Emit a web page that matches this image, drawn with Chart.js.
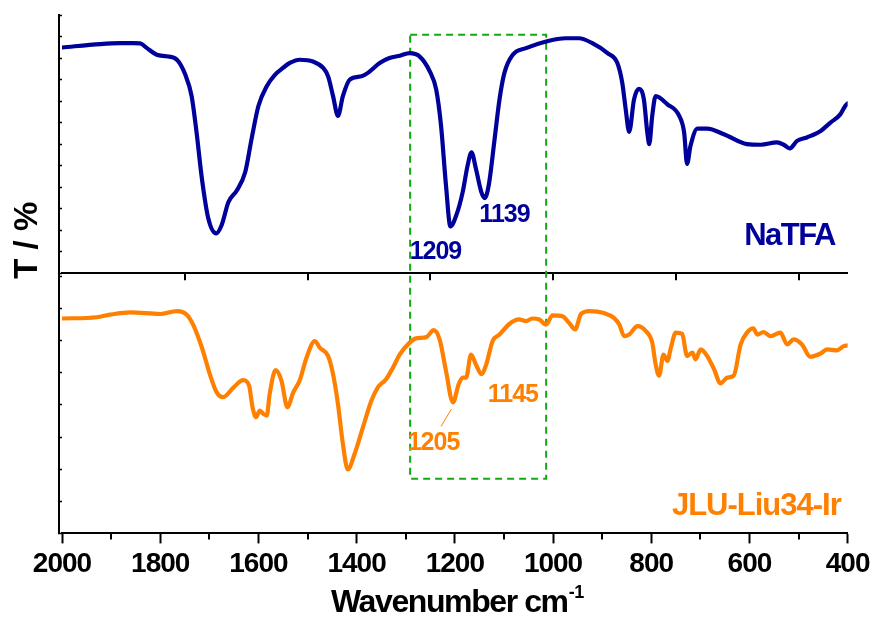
<!DOCTYPE html>
<html><head><meta charset="utf-8">
<script src="https://cdn.jsdelivr.net/npm/chart.js@4.4.0/dist/chart.umd.min.js"></script>
<style>html,body{margin:0;padding:0;background:#fff;}canvas{display:block;}</style>
</head><body>
<canvas id="c" width="875" height="623"></canvas>
<script>
// ---- data ----
const natfaWavenumber = [2000,1922,1882,1855,1841,1827,1807,1787,1766,1749,1736,1726,1715,1702,1686,1675,1661,1644,1627,1614,1600,1583,1566,1550,1536,1516,1489,1468,1458,1448,1438,1428,1414,1390,1377,1353,1333,1312,1292,1272,1251,1238,1228,1218,1209,1197,1184,1174,1166,1157,1146,1139,1131,1119,1109,1099,1082,1055,1014,974,947,920,889,869,859,852,845,835,825,815,808,804,798,791,767,743,733,727,720,706,686,652,605,577,544,530,518,503,483,455,435,415,405,400];
const natfaT = [104.9,106.5,106.9,106.9,106.8,104.6,101.5,100.8,99.2,92.3,82.3,65.5,43.8,25.4,18.5,22.3,33.1,38.4,46.9,62.3,77.7,86.9,92.3,95.4,97.7,99.2,98.4,95.4,91.5,82.3,73.1,82.3,90.0,91.5,93.1,97.7,100.0,101.1,102.3,100.8,93.8,85.4,68.4,40.8,21.8,26.9,37.7,50.0,56.2,48.5,37.7,34.9,40.8,62.3,80.8,93.1,101.5,104.6,107.7,109.2,109.2,106.9,102.3,97.7,88.5,76.2,65.7,80.8,85.7,80.8,65.4,60.0,73.1,82.3,78.5,73.1,65.4,50.8,59.2,67.2,67.2,64.6,60.0,59.7,60.8,59.7,58.0,61.5,63.1,66.1,70.0,73.8,77.7,78.9];
const jluWavenumber = [2000,1929,1902,1861,1800,1766,1746,1733,1715,1699,1685,1672,1651,1631,1619,1612,1605,1597,1590,1583,1577,1565,1553,1541,1529,1516,1502,1485,1475,1458,1448,1438,1428,1418,1404,1387,1370,1357,1340,1326,1312,1292,1279,1258,1243,1231,1218,1204,1192,1184,1177,1167,1157,1146,1136,1123,1109,1089,1069,1055,1042,1028,1014,1001,981,967,955,943,926,896,876,865,855,845,828,811,798,791,784,775,767,760,750,737,727,716,710,699,686,672,659,645,632,618,605,592,584,571,557,537,523,510,493,476,455,442,422,408,400];
const jluT = [66.9,67.3,68.1,68.8,68.3,69.2,68.1,65.0,57.8,49.6,43.9,42.4,45.4,47.7,46.0,39.3,36.2,38.2,37.2,36.7,43.4,50.8,47.5,39.3,43.9,47.6,54.7,59.9,57.8,55.2,49.6,40.3,27.9,19.9,24.8,33.1,41.3,45.4,48.0,51.6,55.7,59.4,60.7,61.1,63.3,60.4,50.6,40.8,46.5,48.5,48.5,55.7,52.6,49.6,52.6,59.9,61.9,65.2,66.6,66.1,66.9,66.6,65.0,67.9,67.6,65.5,63.5,68.3,69.2,68.6,67.1,65.0,61.4,61.9,64.5,63.0,59.4,52.6,49.1,55.7,53.7,57.8,62.5,62.1,55.2,56.3,54.2,57.3,55.2,51.1,46.7,48.5,49.1,58.8,62.5,63.8,61.9,62.7,61.4,62.5,58.8,60.4,58.8,55.0,56.0,57.3,57.0,58.3,58.5];
const xTickLabels = [2000,1800,1600,1400,1200,1000,800,600,400];
const xMinorTicks = [1900,1700,1500,1300,1100,900,700,500];
const middleAxisTicks = [1750,1500,1250,1000,750,500];
const seriesNames = ['NaTFA','JLU-Liu34-Ir'];
const natfaPeaks = ['1209','1139'];
const jluPeaks = ['1205','1145'];
const xTitle = 'Wavenumber cm';
const xTitleSup = '-1';
const yTitle = 'T / %';
// highlighted wavenumber window (dashed box)
const boxRange = [1291, 1014];

// ---- styling / layout ----
const BLUE = '#00009a', ORANGE = '#ff8000', GREEN = '#13a813';
const FONT = '"Liberation Sans", Arial, Helvetica, sans-serif';

const annotations = [
  {text: natfaPeaks[0], x: 1292, y: 6.5, axis: 'yT', color: BLUE, size: 25, ls: -1.0, align: 'left'},
  {text: natfaPeaks[1], x: 1150, y: 24, axis: 'yT', color: BLUE, size: 25, ls: -1.0, align: 'left'},
  {text: seriesNames[0], x: 426, y: 13.1, axis: 'yT', color: BLUE, size: 31, ls: -1.5, align: 'right'},
  {text: jluPeaks[0], x: 1296, y: 25.9, axis: 'yB', color: ORANGE, size: 25, ls: -1.0, align: 'left'},
  {text: jluPeaks[1], x: 1133, y: 40.8, axis: 'yB', color: ORANGE, size: 25, ls: -1.0, align: 'left'},
  {text: seriesNames[1], x: 414, y: 5.8, axis: 'yB', color: ORANGE, size: 31, ls: -1.0, align: 'right'}
];
const leader = {x1: 1207, y1: 38.7, x2: 1228, y2: 33.3, axis: 'yB'};
const boxTop = 110.8, boxBottom = 17.0;

const overlay = {
  id: 'overlay',
  beforeDraw(chart) { chart.ctx.letterSpacing = '-1px'; },
  beforeDatasetsDraw(chart) {
    const {ctx, scales} = chart;
    const x1 = scales.x.getPixelForValue(boxRange[0]);
    const x2 = scales.x.getPixelForValue(boxRange[1]);
    const y1 = scales.yT.getPixelForValue(boxTop);
    const y2 = scales.yB.getPixelForValue(boxBottom);
    ctx.save();
    ctx.strokeStyle = GREEN; ctx.lineWidth = 2; ctx.setLineDash([7, 5]);
    ctx.strokeRect(x1, y1, x2 - x1, y2 - y1);
    ctx.restore();
  },
  afterDraw(chart) {
    const {ctx, scales, chartArea} = chart;
    ctx.save();
    // extra axis ticks, placed through the scales
    ctx.setLineDash([]);
    ctx.strokeStyle = '#000';
    ctx.lineWidth = 2;
    const yMid = scales.yT.getPixelForValue(0);
    const yBot = scales.yB.getPixelForValue(0);
    ctx.beginPath();
    middleAxisTicks.forEach(v => {
      const px = Math.round(scales.x.getPixelForValue(v));
      ctx.moveTo(px, yMid); ctx.lineTo(px, yMid + 7);
    });
    xMinorTicks.forEach(v => {
      const px = Math.round(scales.x.getPixelForValue(v));
      ctx.moveTo(px, yBot); ctx.lineTo(px, yBot + 6);
    });
    ctx.stroke();

    ctx.textBaseline = 'alphabetic';
    annotations.forEach(a => {
      ctx.font = `bold ${a.size}px ${FONT}`;
      ctx.letterSpacing = a.ls + 'px';
      ctx.fillStyle = a.color;
      ctx.textAlign = a.align;
      ctx.fillText(a.text, scales.x.getPixelForValue(a.x), scales[a.axis].getPixelForValue(a.y));
    });
    ctx.strokeStyle = ORANGE; ctx.lineWidth = 1;
    ctx.beginPath();
    ctx.moveTo(scales.x.getPixelForValue(leader.x1), scales[leader.axis].getPixelForValue(leader.y1));
    ctx.lineTo(scales.x.getPixelForValue(leader.x2), scales[leader.axis].getPixelForValue(leader.y2));
    ctx.stroke();
    // x title with superscript
    ctx.fillStyle = '#000';
    ctx.textAlign = 'left';
    ctx.font = `bold 32px ${FONT}`; ctx.letterSpacing = '-1.4px';
    const w1 = ctx.measureText(xTitle).width;
    ctx.font = `bold 18px ${FONT}`; ctx.letterSpacing = '-0.5px';
    const w2 = ctx.measureText(xTitleSup).width;
    const cx = (chartArea.left + chartArea.right) / 2 + 2;
    const base = chart.height - 11;
    const sx = cx - (w1 + w2) / 2;
    ctx.font = `bold 32px ${FONT}`; ctx.letterSpacing = '-1.4px';
    ctx.fillText(xTitle, sx, base);
    ctx.font = `bold 18px ${FONT}`; ctx.letterSpacing = '-0.5px';
    ctx.fillText(xTitleSup, sx + w1 + 1, base - 14);
    // y title rotated
    ctx.translate(37, (chartArea.top + chartArea.bottom) / 2 - 34);
    ctx.rotate(-Math.PI / 2);
    ctx.textAlign = 'center';
    ctx.font = `bold 33px ${FONT}`; ctx.letterSpacing = '0px';
    ctx.fillText(yTitle, 0, 0);
    ctx.restore();
  }
};

const blackGrid = {drawOnChartArea: false, color: '#000', tickColor: '#000'};

new Chart(document.getElementById('c'), {
  type: 'line',
  data: {
    datasets: [
      {label: seriesNames[0], data: natfaWavenumber.map((w, i) => ({x: w, y: natfaT[i]})),
       yAxisID: 'yT', xAxisID: 'x', borderColor: BLUE, borderWidth: 4.2, pointRadius: 0,
       cubicInterpolationMode: 'monotone', borderJoinStyle: 'round', borderCapStyle: 'round', fill: false},
      {label: seriesNames[1], data: jluWavenumber.map((w, i) => ({x: w, y: jluT[i]})),
       yAxisID: 'yB', xAxisID: 'x', borderColor: ORANGE, borderWidth: 4.2, pointRadius: 0,
       cubicInterpolationMode: 'monotone', borderJoinStyle: 'round', borderCapStyle: 'round', fill: false}
    ]
  },
  options: {
    responsive: false, animation: false, devicePixelRatio: 1,
    layout: {padding: {left: 62, right: 26, top: 15, bottom: 38}},
    plugins: {legend: {display: false}, tooltip: {enabled: false}},
    scales: {
      yB: {type: 'linear', position: 'left', stack: 'panels', stackWeight: 262, min: 0, max: 81,
           ticks: {display: false, stepSize: 10, includeBounds: false},
           grid: {...blackGrid, tickLength: -3, tickWidth: 1.5},
           border: {display: true, color: '#000', width: 2}},
      yT: {type: 'linear', position: 'left', stack: 'panels', stackWeight: 260, min: 0, max: 120,
           ticks: {display: false, stepSize: 10, includeBounds: false},
           grid: {...blackGrid, tickLength: -3, tickWidth: 1.5},
           border: {display: true, color: '#000', width: 2}},
      x: {type: 'linear', position: 'bottom', min: 400, max: 2000, reverse: true,
          afterBuildTicks: s => { s.ticks = xTickLabels.map(v => ({value: v})); },
          ticks: {color: '#000', padding: 4, maxRotation: 0, font: {family: FONT, size: 28, weight: 'bold'},
                  callback: v => String(v)},
          grid: {...blackGrid, tickLength: 10, tickWidth: 2},
          border: {display: true, color: '#000', width: 2}},
      x3: {type: 'linear', position: {yT: 0}, min: 400, max: 2000, reverse: true,
           ticks: {display: false},
           grid: {...blackGrid, drawTicks: false},
           border: {display: true, color: '#000', width: 2}}
    }
  },
  plugins: [overlay]
});
</script>
</body></html>
